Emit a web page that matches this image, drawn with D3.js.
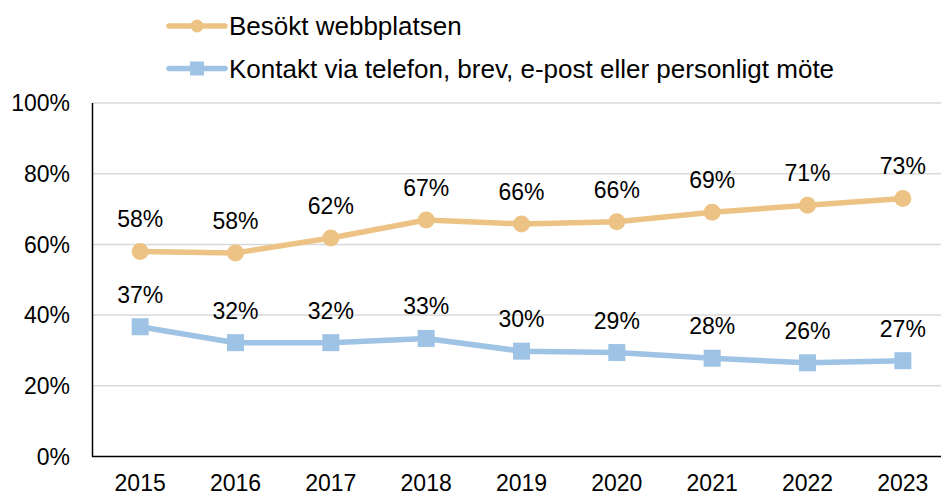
<!DOCTYPE html>
<html>
<head>
<meta charset="utf-8">
<script src="https://cdn.jsdelivr.net/npm/d3@7"></script>
<style>
  body { margin: 0; background: #fff; }
  svg text { font-family: "Liberation Sans", Arial, sans-serif; fill: #000; }
</style>
</head>
<body>
<svg id="chart" width="941" height="496"></svg>
<script>
// data
var years = ["2015", "2016", "2017", "2018", "2019", "2020", "2021", "2022", "2023"];
var webb = [58, 57.6, 61.8, 66.9, 65.8, 66.4, 69.1, 71.1, 73.0];
var webbLabels = ["58%", "58%", "62%", "67%", "66%", "66%", "69%", "71%", "73%"];
var kontakt = [36.7, 32.2, 32.2, 33.4, 29.8, 29.4, 27.8, 26.5, 27.1];
var kontaktLabels = ["37%", "32%", "32%", "33%", "30%", "29%", "28%", "26%", "27%"];
var yTicks = [0, 20, 40, 60, 80, 100];
var seriesNames = ["Besökt webbplatsen", "Kontakt via telefon, brev, e-post eller personligt möte"];

var colOrange = "#ECC385", colBlue = "#9FC3E5";

var svg = d3.select("#chart");

var x = d3.scaleBand().domain(years).range([92.5, 950.5]);
var y = d3.scaleLinear().domain([0, 100]).range([456.5, 103]);

// gridlines
svg.append("g").selectAll("line.grid")
	.data(yTicks.filter(function(d) { return d > 0; }))
	.enter().append("line")
	.attr("class", "grid")
	.attr("x1", 93).attr("x2", 941)
	.attr("y1", function(d) { return y(d); })
	.attr("y2", function(d) { return y(d); })
	.attr("stroke", "#D9D9D9").attr("stroke-width", 1.5);

// y axis labels
svg.append("g").selectAll("text")
	.data(yTicks)
	.enter().append("text")
	.attr("x", 70)
	.attr("y", function(d) { return y(d); })
	.attr("dy", "0.36em")
	.attr("text-anchor", "end")
	.style("font-size", "23px")
	.text(function(d) { return d + "%"; });

// x axis labels
svg.append("g").selectAll("text")
	.data(years)
	.enter().append("text")
	.attr("x", function(d) { return x(d) + x.bandwidth() / 2; })
	.attr("y", 490.5)
	.attr("text-anchor", "middle")
	.style("font-size", "23px")
	.text(function(d) { return d; });

// axis lines
svg.append("line").attr("x1", 92.5).attr("x2", 92.5).attr("y1", 103).attr("y2", 457)
	.attr("stroke", "#000").attr("stroke-width", 1.5);
svg.append("line").attr("x1", 92).attr("x2", 941).attr("y1", 456.5).attr("y2", 456.5)
	.attr("stroke", "#000").attr("stroke-width", 1.5);

var cx = function(d, i) { return x(years[i]) + x.bandwidth() / 2; };
var line = d3.line().x(cx).y(function(d) { return y(d); });

function drawSeries(vals, labels, color, shape) {
	var g = svg.append("g");
	g.append("path")
		.datum(vals)
		.attr("d", line)
		.attr("fill", "none")
		.attr("stroke", color)
		.attr("stroke-width", 5.5)
		.attr("stroke-linejoin", "round");
	if (shape == "circle") {
		g.selectAll("circle").data(vals).enter().append("circle")
			.attr("cx", cx)
			.attr("cy", function(d) { return y(d); })
			.attr("r", 8.5)
			.attr("fill", color);
	} else {
		g.selectAll("rect").data(vals).enter().append("rect")
			.attr("x", function(d, i) { return cx(d, i) - 8.5; })
			.attr("y", function(d) { return y(d) - 8.5; })
			.attr("width", 17).attr("height", 17)
			.attr("fill", color);
	}
	g.selectAll("text").data(vals).enter().append("text")
		.attr("x", cx)
		.attr("y", function(d) { return y(d) - 24; })
		.attr("text-anchor", "middle")
		.style("font-size", "23px")
		.text(function(d, i) { return labels[i]; });
}

drawSeries(webb, webbLabels, colOrange, "circle");
drawSeries(kontakt, kontaktLabels, colBlue, "square");

// legend
var legend = svg.append("g");
var rows = [{name: seriesNames[0], color: colOrange, shape: "circle", y: 26},
            {name: seriesNames[1], color: colBlue, shape: "square", y: 68.5}];
rows.forEach(function(r) {
	legend.append("line")
		.attr("x1", 169).attr("x2", 225)
		.attr("y1", r.y).attr("y2", r.y)
		.attr("stroke", r.color).attr("stroke-width", 5.5)
		.attr("stroke-linecap", "round");
	if (r.shape == "circle") {
		legend.append("circle").attr("cx", 197).attr("cy", r.y).attr("r", 6.5).attr("fill", r.color);
	} else {
		legend.append("rect").attr("x", 190).attr("y", r.y - 7).attr("width", 14).attr("height", 14).attr("fill", r.color);
	}
	legend.append("text")
		.attr("x", 229)
		.attr("y", r.y)
		.attr("dy", "0.36em")
		.style("font-size", "26px")
		.text(r.name);
});
</script>
</body>
</html>
